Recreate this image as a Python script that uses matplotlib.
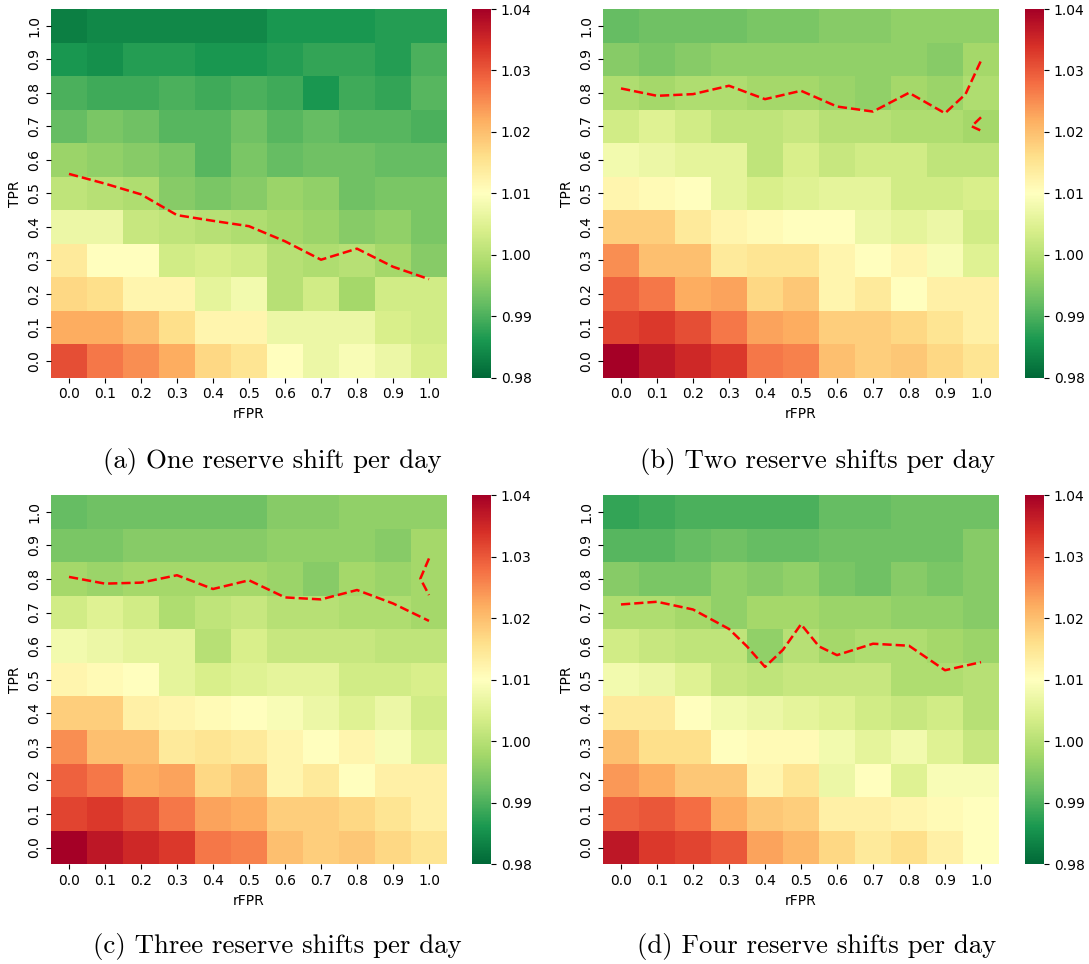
import matplotlib
matplotlib.use("Agg")
import matplotlib.pyplot as plt
import seaborn as sns
import numpy as np
import pandas as pd

rfpr_labels = [0.0, 0.1, 0.2, 0.3, 0.4, 0.5, 0.6, 0.7, 0.8, 0.9, 1.0]
tpr_labels = [1.0, 0.9, 0.8, 0.7, 0.6, 0.5, 0.4, 0.3, 0.2, 0.1, 0.0]  # top to bottom

values_a = [
    [0.983, 0.984, 0.984, 0.984, 0.984, 0.984, 0.986, 0.986, 0.986, 0.987, 0.987],
    [0.986, 0.985, 0.987, 0.987, 0.986, 0.986, 0.987, 0.988, 0.988, 0.987, 0.990],
    [0.990, 0.989, 0.989, 0.990, 0.989, 0.990, 0.989, 0.986, 0.989, 0.988, 0.991],
    [0.992, 0.994, 0.993, 0.991, 0.991, 0.993, 0.991, 0.992, 0.991, 0.991, 0.990],
    [0.997, 0.996, 0.995, 0.994, 0.991, 0.994, 0.992, 0.993, 0.993, 0.992, 0.992],
    [1.001, 1.000, 0.999, 0.995, 0.994, 0.995, 0.997, 0.996, 0.993, 0.994, 0.994],
    [1.007, 1.007, 1.002, 1.001, 1.000, 0.999, 0.998, 0.997, 0.995, 0.996, 0.994],
    [1.014, 1.010, 1.010, 1.003, 1.004, 1.003, 1.000, 0.999, 1.000, 0.998, 0.995],
    [1.017, 1.016, 1.012, 1.012, 1.006, 1.008, 1.000, 1.003, 0.998, 1.003, 1.003],
    [1.022, 1.022, 1.020, 1.016, 1.012, 1.012, 1.007, 1.007, 1.007, 1.004, 1.003],
    [1.031, 1.027, 1.025, 1.022, 1.017, 1.015, 1.010, 1.007, 1.009, 1.007, 1.004],
]

values_b = [
    [0.992, 0.993, 0.993, 0.993, 0.994, 0.994, 0.995, 0.995, 0.996, 0.996, 0.996],
    [0.995, 0.994, 0.995, 0.996, 0.996, 0.996, 0.996, 0.996, 0.996, 0.995, 0.998],
    [0.999, 0.998, 0.999, 0.999, 0.998, 0.998, 0.997, 0.996, 0.998, 0.997, 0.999],
    [1.003, 1.005, 1.003, 1.001, 1.001, 1.002, 1.000, 1.000, 0.999, 0.999, 0.998],
    [1.008, 1.007, 1.006, 1.006, 1.001, 1.004, 1.002, 1.003, 1.003, 1.001, 1.001],
    [1.012, 1.011, 1.010, 1.006, 1.004, 1.005, 1.006, 1.006, 1.003, 1.003, 1.004],
    [1.018, 1.018, 1.014, 1.012, 1.011, 1.010, 1.010, 1.007, 1.006, 1.007, 1.003],
    [1.025, 1.020, 1.020, 1.014, 1.015, 1.015, 1.012, 1.010, 1.012, 1.009, 1.005],
    [1.029, 1.027, 1.022, 1.023, 1.017, 1.019, 1.012, 1.014, 1.010, 1.013, 1.013],
    [1.032, 1.033, 1.031, 1.027, 1.023, 1.022, 1.018, 1.018, 1.017, 1.015, 1.013],
    [1.040, 1.037, 1.035, 1.033, 1.027, 1.026, 1.020, 1.018, 1.019, 1.017, 1.015],
]

values_c = [
    [0.992, 0.993, 0.993, 0.993, 0.993, 0.993, 0.995, 0.995, 0.996, 0.996, 0.996],
    [0.994, 0.994, 0.995, 0.995, 0.995, 0.995, 0.996, 0.996, 0.996, 0.995, 0.998],
    [0.998, 0.997, 0.998, 0.998, 0.998, 0.998, 0.997, 0.995, 0.998, 0.997, 0.998],
    [1.003, 1.005, 1.003, 0.999, 1.001, 1.002, 1.000, 1.000, 0.999, 0.999, 0.998],
    [1.008, 1.007, 1.006, 1.006, 1.000, 1.004, 1.002, 1.002, 1.002, 1.001, 1.001],
    [1.012, 1.011, 1.010, 1.006, 1.004, 1.005, 1.006, 1.006, 1.003, 1.003, 1.004],
    [1.018, 1.018, 1.013, 1.012, 1.011, 1.010, 1.009, 1.007, 1.005, 1.007, 1.003],
    [1.025, 1.020, 1.020, 1.014, 1.015, 1.014, 1.012, 1.010, 1.012, 1.009, 1.005],
    [1.029, 1.027, 1.022, 1.023, 1.017, 1.019, 1.012, 1.014, 1.010, 1.013, 1.013],
    [1.032, 1.033, 1.031, 1.027, 1.023, 1.022, 1.018, 1.018, 1.017, 1.015, 1.013],
    [1.040, 1.037, 1.035, 1.033, 1.027, 1.026, 1.020, 1.018, 1.019, 1.017, 1.015],
]

values_d = [
    [0.988, 0.989, 0.990, 0.990, 0.990, 0.990, 0.992, 0.992, 0.993, 0.993, 0.993],
    [0.991, 0.991, 0.992, 0.993, 0.992, 0.992, 0.993, 0.993, 0.993, 0.993, 0.995],
    [0.995, 0.994, 0.994, 0.996, 0.995, 0.996, 0.994, 0.993, 0.995, 0.994, 0.995],
    [0.999, 0.999, 0.998, 0.996, 0.998, 0.998, 0.997, 0.997, 0.996, 0.996, 0.995],
    [1.003, 1.002, 1.001, 1.001, 0.996, 1.000, 0.998, 0.999, 0.999, 0.998, 0.997],
    [1.008, 1.007, 1.005, 1.002, 1.001, 1.002, 1.002, 1.002, 0.999, 0.999, 1.000],
    [1.014, 1.014, 1.010, 1.008, 1.007, 1.006, 1.005, 1.003, 1.002, 1.003, 1.000],
    [1.020, 1.016, 1.016, 1.010, 1.011, 1.011, 1.008, 1.006, 1.008, 1.005, 1.002],
    [1.024, 1.022, 1.019, 1.019, 1.012, 1.015, 1.007, 1.010, 1.005, 1.009, 1.009],
    [1.029, 1.030, 1.028, 1.022, 1.019, 1.018, 1.013, 1.013, 1.012, 1.011, 1.010],
    [1.037, 1.033, 1.032, 1.030, 1.023, 1.021, 1.017, 1.014, 1.016, 1.013, 1.010],
]

# dashed threshold lines (rFPR, TPR)
line_a_x = [0.0, 0.1, 0.2, 0.3, 0.4, 0.5, 0.6, 0.7, 0.8, 0.9, 1.0]
line_a_y = [0.558, 0.529, 0.497, 0.435, 0.418, 0.402, 0.357, 0.302, 0.335, 0.281, 0.244]

line_b_x = [0.0, 0.1, 0.2, 0.3, 0.4, 0.5, 0.6, 0.7, 0.8, 0.9, 0.957, 1.0]
line_b_y = [0.813, 0.791, 0.796, 0.821, 0.781, 0.806, 0.759, 0.744, 0.800, 0.739, 0.796, 0.896]
line_b2_x = [1.0, 0.974, 1.0]
line_b2_y = [0.727, 0.700, 0.687]

line_c_x = [0.0, 0.1, 0.2, 0.3, 0.4, 0.5, 0.6, 0.7, 0.8, 0.9, 1.0]
line_c_y = [0.806, 0.786, 0.789, 0.811, 0.770, 0.796, 0.745, 0.739, 0.767, 0.727, 0.675]
line_c2_x = [1.0, 0.976, 1.0]
line_c2_y = [0.861, 0.801, 0.752]

line_d_x = [0.0, 0.1, 0.2, 0.3, 0.35, 0.4, 0.45, 0.5, 0.55, 0.6, 0.7, 0.8, 0.9, 1.0]
line_d_y = [0.724, 0.732, 0.709, 0.651, 0.599, 0.538, 0.589, 0.665, 0.599, 0.573, 0.607, 0.601, 0.528, 0.552]

captions = ["(a) One reserve shift per day", "(b) Two reserve shifts per day",
            "(c) Three reserve shifts per day", "(d) Four reserve shifts per day"]

W, H = 1089, 964
fig = plt.figure(figsize=(W / 100, H / 100), dpi=100)


def box(x0, y0, x1, y1):
    return [x0 / W, 1 - y1 / H, (x1 - x0) / W, (y1 - y0) / H]


panels = [
    (values_a, [(line_a_x, line_a_y)], (51, 9, 447, 377.7), 472, 272, 461),
    (values_b, [(line_b_x, line_b_y), (line_b2_x, line_b2_y)], (603, 9, 999, 377.7), 1025, 818, 461),
    (values_c, [(line_c_x, line_c_y), (line_c2_x, line_c2_y)], (51, 495, 447, 864.3), 472, 277, 947),
    (values_d, [(line_d_x, line_d_y)], (603, 495, 999, 864.3), 1025, 817, 947),
]

for (vals, lines, (x0, y0, x1, y1), cbx, capx, capy), cap in zip(panels, captions):
    ax = fig.add_axes(box(x0, y0, x1, y1))
    cax = fig.add_axes(box(cbx, y0, cbx + 19, y1))
    df = pd.DataFrame(vals, index=[f"{t:.1f}" for t in tpr_labels],
                      columns=[f"{r:.1f}" for r in rfpr_labels])
    sns.heatmap(df, ax=ax, cbar_ax=cax, cmap="RdYlGn_r", vmin=0.98, vmax=1.04,
                cbar_kws={"ticks": [0.98, 0.99, 1.00, 1.01, 1.02, 1.03, 1.04]})
    cax.set_yticklabels(["0.98", "0.99", "1.00", "1.01", "1.02", "1.03", "1.04"])
    cax.tick_params(labelsize=10)
    ax.set_xlabel("rFPR", fontsize=10)
    ax.set_ylabel("TPR", fontsize=10)
    ax.tick_params(labelsize=10)
    plt.setp(ax.get_yticklabels(), rotation=90, va="center")
    plt.setp(ax.get_xticklabels(), rotation=0)
    for lx, ly in lines:
        px = [r * 10 + 0.5 for r in lx]
        py = [(1.0 - t) * 10 + 0.5 for t in ly]
        ax.plot(px, py, linestyle="--", color="red", linewidth=1.8)
    fig.text(capx / W, 1 - capy / H, cap, ha="center", va="center",
             fontsize=19.3, family="cmr10")

fig.savefig("out.png", dpi=100)
